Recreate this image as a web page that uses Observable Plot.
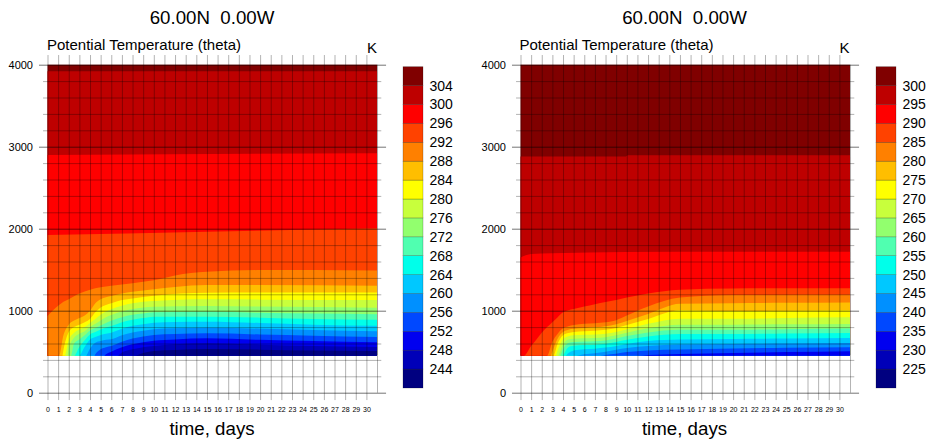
<!DOCTYPE html>
<html>
<head>
<meta charset="utf-8">
<script src="https://cdn.jsdelivr.net/npm/d3@7"></script>
<script src="https://cdn.jsdelivr.net/npm/@observablehq/plot@0.6"></script>
<style>
  body { margin: 0; background: #fff; }
  #fig { position: relative; width: 936px; height: 443px; overflow: hidden;
         font-family: "Liberation Sans", Arial, Helvetica, sans-serif; color: #000; }
  .lbl { position: absolute; white-space: pre; line-height: 1; }
  .center { transform: translateX(-50%); }
</style>
</head>
<body>
<div id="fig"></div>
<script>
// ---- shared axes data ----
const dayTicks = d3.range(0, 31);               // 0 … 30
const heightTicks = [0, 1000, 2000, 3000, 4000];
const gridStep = 200;                            // m
const baseHeight = 450;                          // lowest model level (m)
const topHeight = 4000;                          // top of the column (m)
const lastDay = 31;                              // end of the run (days)
const titleText = "60.00N  0.00W";
const fieldName = "Potential Temperature (theta)";
const unitText = "K";
const xTitle = "time, days";

// 17 fill colours, lowest band first
const bandColors = ["#000080", "#0000B8", "#0000F0", "#0048FF", "#0090FF", "#00C8FF",
  "#00FFEA", "#50FFB0", "#92FF6E", "#C8FF3C", "#FFFF00", "#FFBE00", "#FF8000",
  "#FF4200", "#FF0000", "#BE0000", "#800000"];

// ---- left panel: contour levels (K) and their heights [day, m] ----
const leftLevels = [244, 248, 252, 256, 260, 264, 268, 272, 276, 280, 284, 288, 292, 296, 300, 304];
const leftContours = [
  [[0,450],[8.1,450],[9,485],[10,508],[12,520],[15,533],[20,525],[25,515],[31,510]],
  [[0,450],[6.55,450],[7,490],[8,530],[9,555],[10,570],[12,590],[15,602],[20,585],[25,570],[31,557]],
  [[0,450],[5.3,450],[5.5,470],[6,500],[7,555],[8,590],[9,615],[10,634],[12,650],[15,663],[20,645],[25,630],[31,615]],
  [[0,450],[4.4,450],[4.5,470],[5,530],[5.5,555],[6,570],[7,620],[8,660],[9,685],[10,704],[12,715],[15,724],[20,710],[25,695],[31,680]],
  [[0,450],[3.6,450],[4,540],[4.5,610],[5,630],[5.5,645],[6,651],[7,700],[8,735],[9,755],[10,773],[12,785],[15,793],[20,780],[25,765],[31,748]],
  [[0,450],[2.96,450],[3.5,560],[4,650],[4.5,680],[5,705],[5.5,720],[6,732],[7,780],[8,815],[9,835],[10,854],[12,862],[15,866],[20,850],[25,830],[31,815]],
  [[0,450],[2.5,450],[3,560],[3.5,640],[4,710],[4.5,740],[5,770],[5.5,795],[6,813],[7,860],[8,890],[9,910],[10,927],[15,927],[20,915],[25,900],[31,890]],
  [[0,450],[2.2,450],[2.5,600],[3,650],[3.5,700],[4,760],[4.5,790],[5,820],[5.5,850],[6,878],[7,920],[8,950],[9,965],[10,980],[15,988],[20,975],[25,965],[31,958]],
  [[0,450],[1.86,450],[2,540],[2.5,670],[3,720],[3.5,750],[4,800],[4.5,840],[5,880],[5.5,920],[6,947],[7,990],[8,1020],[10,1049],[15,1057],[20,1050],[31,1035]],
  [[0,450],[1.6,450],[2,640],[2.5,730],[3,770],[3.5,800],[4,850],[4.5,900],[5,950],[5.5,990],[6,1017],[7,1060],[8,1090],[10,1118],[15,1139],[20,1135],[31,1130]],
  [[0,450],[1.4,450],[1.5,520],[2,740],[2.5,800],[3,830],[3.5,860],[4,900],[4.5,980],[5,1040],[5.5,1070],[6,1090],[7,1130],[8,1150],[10,1183],[15,1220],[31,1222]],
  [[0,450],[1.08,450],[1.5,700],[2,830],[2.5,880],[3,910],[3.5,940],[4,1000],[4.5,1090],[5,1140],[6,1180],[7,1210],[8,1230],[10,1261],[12,1290],[15,1313],[31,1305]],
  [[0,935],[1,1060],[1.5,1110],[2,1140],[3,1210],[4,1255],[5,1285],[6,1305],[8,1335],[10,1370],[12,1430],[15,1475],[20,1495],[25,1495],[31,1490]],
  [[0,1922],[15,1963],[31,2005]],
  [[0,2900],[31,2920]],
  [[0,3920],[31,3920]]
];

// ---- right panel ----
const rightLevels = [225, 230, 235, 240, 245, 250, 255, 260, 265, 270, 275, 280, 285, 290, 295, 300];
const rightContours = [
  [[0,450],[31,450]],
  [[0,450],[31,450]],
  [[0,450],[11,450],[12,460],[15,473],[20,485],[25,495],[31,506]],
  [[0,450],[7.5,450],[8,460],[9,475],[10,495],[12,515],[15,527],[20,539],[25,548],[31,555]],
  [[0,450],[5,450],[6,470],[7,482],[8,500],[9,525],[10,545],[12,570],[15,587],[20,595],[25,600],[31,607]],
  [[0,450],[4.2,450],[4.5,485],[5,515],[6,530],[7,537],[8,550],[9,570],[10,595],[12,630],[15,648],[20,655],[25,660],[31,667]],
  [[0,450],[3.9,450],[4.5,555],[5,572],[6,582],[7,586],[8,598],[9,618],[10,645],[12,685],[15,716],[20,716],[25,722],[31,728]],
  [[0,450],[3.7,450],[4,530],[4.5,607],[5,618],[6,624],[7,627],[8,637],[9,660],[10,690],[12,735],[15,769],[20,769],[25,775],[31,782]],
  [[0,450],[3.5,450],[4,590],[4.5,648],[5,658],[6,664],[7,667],[8,677],[9,700],[10,730],[12,785],[15,830],[20,830],[25,834],[31,838]],
  [[0,450],[3.3,450],[3.5,520],[4,650],[4.5,688],[5,700],[6,706],[7,709],[8,720],[9,740],[10,775],[12,840],[15,903],[20,903],[25,910],[31,919]],
  [[0,450],[3.1,450],[3.5,600],[4,700],[4.5,728],[5,740],[6,750],[7,757],[8,768],[9,790],[10,825],[12,900],[15,1005],[20,995],[25,1000],[31,1004]],
  [[0,450],[2.85,450],[3,500],[3.5,660],[4,740],[4.5,769],[5,780],[6,790],[7,797],[8,810],[9,835],[10,875],[12,960],[15,1085],[20,1092],[25,1096],[31,1100]],
  [[0,450],[2.5,450],[3,620],[3.5,720],[4,785],[4.5,810],[5,825],[6,840],[7,848],[8,860],[9,885],[10,940],[12,1050],[15,1160],[20,1192],[31,1194]],
  [[0,450],[0.3,450],[1,570],[1.5,650],[2,730],[2.5,800],[3,860],[3.5,920],[4,980],[5,1020],[6,1050],[7,1080],[8,1105],[9,1130],[10,1160],[12,1210],[15,1255],[20,1272],[31,1274]],
  [[0,1650],[1,1690],[3,1700],[10,1715],[20,1720],[31,1720]],
  [[0,2880],[9.9,2880],[10.1,2895],[31,2895]]
];

const FONT = '"Liberation Sans", Arial, Helvetica, sans-serif';
const fig = document.getElementById("fig");

function addLabel(text, x, y, size, cls) {
  const d = document.createElement("div");
  d.className = "lbl " + (cls || "");
  d.textContent = text;
  d.style.left = x + "px";
  d.style.top = y + "px";
  d.style.fontSize = size + "px";
  fig.appendChild(d);
  return d;
}

// height–time section: filled bands painted from the top band downwards
function section(contours) {
  const marks = [];
  marks.push(Plot.rect([0], {x1: 0, x2: lastDay, y1: baseHeight, y2: topHeight,
    fill: bandColors[bandColors.length - 1]}));
  for (let k = contours.length - 1; k >= 0; k--) {
    marks.push(Plot.areaY(contours[k], {
      x: d => d[0], y1: baseHeight, y2: d => d[1],
      fill: bandColors[k], curve: "monotone-x"
    }));
  }
  const minor = d3.range(0, topHeight + 1, gridStep).filter(h => h % 1000 !== 0);
  marks.push(
    Plot.ruleX(dayTicks, {x: d => d, y1: -90, y2: topHeight + 118, stroke: "#000", strokeOpacity: 0.3}),
    Plot.ruleX([lastDay], {x: d => d, y1: 0, y2: topHeight, stroke: "#000", strokeOpacity: 0.3}),
    Plot.ruleY(minor, {y: d => d, x1: -0.42, x2: lastDay + 0.4, stroke: "#000", strokeOpacity: 0.3}),
    Plot.ruleY(heightTicks, {y: d => d, x1: -0.8, x2: lastDay + 0.85, stroke: "#000", strokeOpacity: 0.55}),
    Plot.axisY(heightTicks, {anchor: "left", tickSize: 0, tickPadding: 15, fontSize: 11,
      tickFormat: d => String(d), label: null}),
    Plot.axisX(dayTicks, {anchor: "bottom", tickSize: 0, tickPadding: 14, fontSize: 7,
      tickFormat: d => String(d), label: null})
  );
  return Plot.plot({
    width: 468, height: 443,
    marginLeft: 47.5, marginRight: 468 - 47.5 - lastDay * 10.63,
    marginTop: 64.7, marginBottom: 443 - 392.7,
    x: {domain: [0, lastDay]},
    y: {domain: [0, topHeight]},
    style: {fontFamily: FONT, color: "#000", background: "transparent", overflow: "visible"},
    marks
  });
}

function colorbar(levels) {
  const boxes = bandColors.map((c, i) => ({i, c}));
  return Plot.plot({
    width: 60, height: 443,
    marginLeft: 0, marginRight: 40, marginTop: 66.7, marginBottom: 443 - 388,
    x: {domain: [0, 1], axis: null},
    y: {domain: [0, bandColors.length], axis: null},
    color: {type: "identity"},
    style: {fontFamily: FONT, color: "#000", background: "transparent", overflow: "visible"},
    marks: [
      Plot.rect(boxes, {x1: 0, x2: 1, y1: d => d.i, y2: d => d.i + 1, fill: d => d.c,
        stroke: "#000", strokeOpacity: 0.35, strokeWidth: 0.6}),
      Plot.axisY(d3.range(1, levels.length + 1), {anchor: "right", tickSize: 0, tickPadding: 6,
        tickFormat: i => String(levels[i - 1]), fontSize: 14, label: null})
    ]
  });
}

function panel(levels, contours, offset) {
  const svg = section(contours);
  svg.style.position = "absolute";
  svg.style.left = offset + "px";
  svg.style.top = "0px";
  fig.appendChild(svg);

  const bar = colorbar(levels);
  bar.style.position = "absolute";
  bar.style.left = (offset + 403) + "px";
  bar.style.top = "0px";
  fig.appendChild(bar);

  addLabel(titleText, offset + 212, 9, 18.7, "center");
  addLabel(fieldName, offset + 47, 36.6, 15);
  const k = addLabel(unitText, 0, 40, 15);
  k.style.left = (offset + 377 - k.getBoundingClientRect().width) + "px";
  addLabel(xTitle, offset + 212, 419.8, 18.7, "center");
}

panel(leftLevels, leftContours, 0);
panel(rightLevels, rightContours, 472.5);
</script>
</body>
</html>
